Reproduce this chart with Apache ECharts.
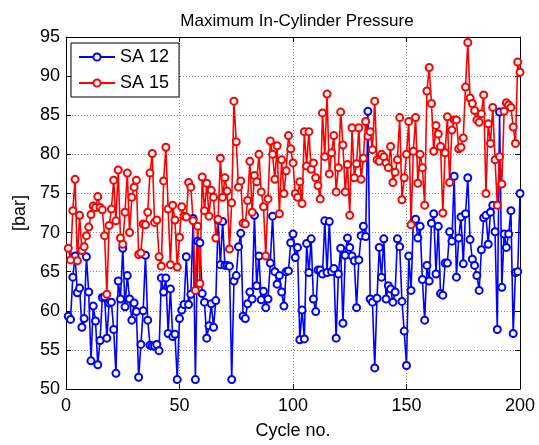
<!DOCTYPE html>
<html>
<head>
<meta charset="utf-8">
<script src="https://cdn.jsdelivr.net/npm/echarts@6/dist/echarts.min.js"></script>
<style>html,body{margin:0;padding:0;background:#fff;}#c{width:539px;height:445px;}</style>
</head>
<body>
<div id="c"></div>
<script>
const titleText = 'Maximum In-Cylinder Pressure';
const xName = 'Cycle no.';
const yName = '[bar]';
const seriesNames = ['SA 12', 'SA 15'];
const firstCycle = 1;

const sa12 = [
59.3,58.9,64.3,67.0,62.3,62.9,57.9,59.0,66.9,62.4,
53.6,60.6,58.7,53.1,56.2,61.7,61.8,56.5,61.0,61.1,
57.6,52.0,63.8,61.5,68.0,60.5,64.5,61.5,58.8,61.0,
59.9,51.5,55.7,60.0,67.1,58.8,55.6,55.5,55.5,55.7,
54.9,64.2,62.4,64.2,57.1,62.8,56.7,57.0,51.2,59.0,
60.1,60.8,66.9,60.8,62.1,71.8,51.2,68.9,68.7,62.2,
61.1,56.5,58.1,60.9,57.9,61.3,71.6,65.9,71.4,65.8,
65.8,65.7,51.2,63.8,64.5,68.2,69.9,59.3,59.0,60.9,
62.4,61.5,72.2,63.2,67.0,61.4,62.5,60.4,61.5,66.1,
72.1,65.0,63.4,64.5,62.4,60.6,65.0,65.1,68.7,69.8,
66.8,68.1,56.3,60.1,56.4,68.6,64.9,69.2,61.5,59.9,
65.2,65.2,64.7,71.5,64.9,71.4,65.0,65.4,56.5,64.7,
68.0,58.4,67.1,69.3,68.1,67.0,66.4,60.4,66.5,69.6,
70.8,69.5,85.5,61.5,61.1,52.7,61.6,68.1,64.3,69.2,
61.5,63.2,62.8,61.1,62.4,69.2,68.2,61.2,57.4,53.0,
67.0,62.6,71.3,71.7,69.3,70.8,64.0,58.8,65.8,63.8,
71.2,72.4,64.7,70.8,62.2,62.0,66.1,66.1,70.1,68.9,
77.2,64.3,69.3,72.0,66.0,72.4,77.0,69.1,66.6,65.8,
64.5,62.6,67.8,71.9,72.2,68.5,72.6,73.5,70.1,57.6,
85.4,63.0,69.8,68.1,69.8,72.8,57.1,64.9,65.0,75.0
];

const sa15 = [
68.0,66.5,72.8,76.8,66.4,72.2,67.7,68.2,69.6,70.7,
72.3,73.4,73.2,74.6,73.2,72.9,69.6,62.1,70.9,73.0,
76.7,71.5,78.0,69.3,68.5,72.6,77.6,70.0,74.5,75.8,
76.7,67.2,67.4,71.1,71.0,72.6,77.6,80.1,71.3,71.6,
66.9,65.7,76.6,80.9,73.0,65.9,73.5,71.6,65.6,69.4,
73.3,72.1,72.0,76.4,75.8,71.5,62.6,70.8,63.5,77.1,
72.8,76.3,72.1,75.4,74.5,69.3,71.7,79.5,74.5,77.0,
75.3,67.9,73.8,86.8,81.6,75.8,76.6,71.2,71.1,74.1,
79.1,72.6,77.3,76.5,80.0,75.2,73.3,67.0,74.3,81.7,
80.0,76.8,81.1,72.4,79.3,75.0,77.9,82.4,80.7,78.9,
75.0,74.5,76.5,73.7,82.9,78.5,82.9,78.1,78.9,77.0,
76.0,74.3,85.3,79.7,87.7,77.5,80.2,82.4,75.2,78.3,
85.4,81.2,75.2,78.7,72.2,83.4,77.0,78.8,83.4,76.8,
79.5,84.2,82.3,82.9,80.6,86.8,79.3,79.1,80.0,79.7,
78.9,78.3,81.0,76.4,77.7,79.3,84.7,74.2,77.0,80.0,
84.2,71.0,80.4,84.7,76.3,80.0,78.3,73.5,88.1,91.1,
86.5,80.4,83.7,82.6,81.0,72.5,80.2,84.8,76.4,83.1,
84.4,84.4,80.7,80.9,82.1,88.6,94.3,87.2,86.5,85.6,
84.4,84.1,85.2,87.6,75.0,83.9,81.4,86.0,79.3,73.5,
79.7,76.2,85.5,86.6,86.3,86.0,83.5,81.4,91.8,90.5
];

const xTicks = [0, 50, 100, 150, 200];
const yTicks = [50, 55, 60, 65, 70, 75, 80, 85, 90, 95];

function pairs(arr) { return arr.map((v, i) => [firstCycle + i, v]); }

const FONT = '"Liberation Sans", Arial, Helvetica, sans-serif';
const chart = echarts.init(document.getElementById('c'), null, {renderer: 'canvas'});

const baseX = {
  type: 'value', min: xTicks[0], max: xTicks[xTicks.length - 1], interval: xTicks[1] - xTicks[0],
  axisLine: {show: true, onZero: false, lineStyle: {color: '#000', width: 1}},
  axisTick: {show: true, inside: true, length: 5, lineStyle: {color: '#000'}}
};
const baseY = {
  type: 'value', min: yTicks[0], max: yTicks[yTicks.length - 1], interval: yTicks[1] - yTicks[0],
  axisLine: {show: true, onZero: false, lineStyle: {color: '#000', width: 1}},
  axisTick: {show: true, inside: true, length: 5, lineStyle: {color: '#000'}}
};

const gridLine = {show: true, lineStyle: {color: '#8c8c8c', type: [1, 2], width: 1}};

chart.setOption({
  animation: false,
  backgroundColor: '#fff',
  title: {
    text: titleText, left: 292, textAlign: 'center', top: 8,
    textStyle: {fontFamily: FONT, fontSize: 17, fontWeight: 'normal', color: '#000'}
  },
  grid: {left: 66, right: 19, top: 37, bottom: 50, containLabel: false},
  legend: {
    data: seriesNames, orient: 'vertical', left: 71, top: 43,
    backgroundColor: '#fff', borderColor: '#000', borderWidth: 1, borderRadius: 0,
    padding: [5, 10, 5, 7], itemGap: 8, itemWidth: 36, itemHeight: 9,
    textStyle: {fontFamily: FONT, fontSize: 18, color: '#000'}
  },
  xAxis: [
    Object.assign({}, baseX, {
      position: 'bottom', splitLine: gridLine,
      axisLabel: {fontFamily: FONT, fontSize: 18, color: '#000', margin: 8},
      name: xName, nameLocation: 'middle', nameGap: 33,
      nameTextStyle: {fontFamily: FONT, fontSize: 18, color: '#000'}
    }),
    Object.assign({}, baseX, {position: 'top', splitLine: {show: false}, axisLabel: {show: false}})
  ],
  yAxis: [
    Object.assign({}, baseY, {
      position: 'left', splitLine: gridLine,
      axisLabel: {fontFamily: FONT, fontSize: 18, color: '#000', margin: 6},
      name: yName, nameLocation: 'middle', nameGap: 35, nameRotate: 90,
      nameTextStyle: {fontFamily: FONT, fontSize: 18, color: '#000'}
    }),
    Object.assign({}, baseY, {position: 'right', splitLine: {show: false}, axisLabel: {show: false}})
  ],
  series: [
    {
      name: seriesNames[0], type: 'line', data: pairs(sa12), xAxisIndex: 0, yAxisIndex: 0,
      symbol: 'emptyCircle', symbolSize: 7, showAllSymbol: true,
      lineStyle: {color: '#0000ff', width: 1.6},
      itemStyle: {color: '#0000ff', borderColor: '#0000ff', borderWidth: 1.5},
      emphasis: {disabled: true}
    },
    {
      name: seriesNames[1], type: 'line', data: pairs(sa15), xAxisIndex: 0, yAxisIndex: 0,
      symbol: 'emptyCircle', symbolSize: 7, showAllSymbol: true,
      lineStyle: {color: '#ff0000', width: 1.6},
      itemStyle: {color: '#ff0000', borderColor: '#ff0000', borderWidth: 1.5},
      emphasis: {disabled: true}
    }
  ]
});
</script>
</body>
</html>
